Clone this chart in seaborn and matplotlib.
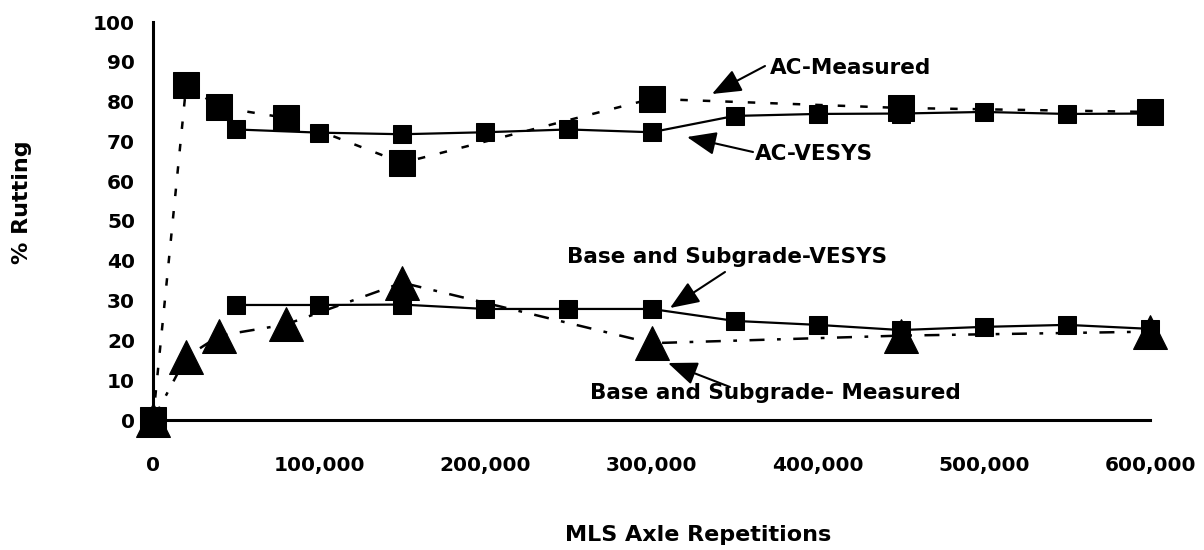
import matplotlib
matplotlib.use("Agg")
import matplotlib.pyplot as plt
import seaborn as sns
import pandas as pd
from matplotlib.ticker import FuncFormatter

sns.set_theme(style="white")
plt.rcParams['font.family'] = ['DejaVu Sans']
plt.rcParams['text.color'] = 'black'

# Data
ac_meas_x = [0, 20000, 40000, 80000, 150000, 300000, 450000, 600000]
ac_meas_y = [0, 84.2, 78.6, 75.9, 64.6, 80.7, 78.4, 77.4]

ac_vesys_x = [50000, 100000, 150000, 200000, 250000, 300000, 350000, 400000, 450000, 500000, 550000, 600000]
ac_vesys_y = [73.0, 72.2, 71.8, 72.3, 73.0, 72.3, 76.4, 76.9, 77.0, 77.4, 76.9, 77.0]

base_vesys_x = [50000, 100000, 150000, 200000, 250000, 300000, 350000, 400000, 450000, 500000, 550000, 600000]
base_vesys_y = [28.9, 28.9, 29.0, 27.9, 27.9, 27.9, 24.9, 23.9, 22.6, 23.4, 23.9, 22.9]

base_meas_x = [0, 20000, 40000, 80000, 150000, 300000, 450000, 600000]
base_meas_y = [0, 15.8, 21.2, 24.0, 34.5, 19.3, 21.2, 22.2]

x_ticks = [0, 100000, 200000, 300000, 400000, 500000, 600000]
y_ticks = [0, 10, 20, 30, 40, 50, 60, 70, 80, 90, 100]

labels = ["AC-Measured", "AC-VESYS", "Base and Subgrade-VESYS", "Base and Subgrade- Measured"]

fig = plt.figure(figsize=(12.04, 5.5), dpi=100)
ax = fig.add_axes([153/1204, 1-420/550, (1150-153)/1204, (420-22)/550])

df_am = pd.DataFrame({"x": ac_meas_x, "y": ac_meas_y})
df_av = pd.DataFrame({"x": ac_vesys_x, "y": ac_vesys_y})
df_bv = pd.DataFrame({"x": base_vesys_x, "y": base_vesys_y})
df_bm = pd.DataFrame({"x": base_meas_x, "y": base_meas_y})

sns.lineplot(data=df_av, x="x", y="y", ax=ax, color="black", lw=1.6,
             marker="s", markersize=13.5, markeredgecolor="black", clip_on=False, zorder=3)
sns.lineplot(data=df_bv, x="x", y="y", ax=ax, color="black", lw=1.6,
             marker="s", markersize=13.5, markeredgecolor="black", clip_on=False, zorder=3)
sns.lineplot(data=df_am, x="x", y="y", ax=ax, color="black", lw=1.8,
             linestyle=(0, (3, 6)), marker="s", markersize=19,
             markeredgecolor="black", clip_on=False, zorder=4)
sns.lineplot(data=df_bm, x="x", y="y", ax=ax, color="black", lw=1.8,
             linestyle=(0, (6, 5, 1.5, 5)), marker="^", markersize=25,
             markeredgecolor="black", clip_on=False, zorder=4)

ax.set_xlim(0, 600000)
ax.set_ylim(0, 100)
ax.set_xticks(x_ticks)
ax.set_yticks(y_ticks)
ax.xaxis.set_major_formatter(FuncFormatter(lambda v, p: f"{int(v):,}"))

for s in ["top", "right"]:
    ax.spines[s].set_visible(False)
for s in ["left", "bottom"]:
    ax.spines[s].set_color("black")
    ax.spines[s].set_linewidth(2.2)

ax.tick_params(axis="both", direction="in", length=7, width=2, colors="black",
               labelsize=14.5)
ax.tick_params(axis="y", pad=13)
ax.tick_params(axis="x", pad=26)
for lab in ax.get_xticklabels() + ax.get_yticklabels():
    lab.set_fontweight("bold")

ax.set_xlabel("")
ax.set_ylabel("")
fig.text(698/1204, 1-535/550, "MLS Axle Repetitions", ha="center", va="center",
         fontsize=16, fontweight="bold", color="black")
fig.text(22/1204, 1-202/550, "% Rutting", ha="center", va="center",
         rotation=90, fontsize=16, fontweight="bold", color="black")

def px2d(px, py):
    return ((px - 153) / 997 * 600000, (420 - py) / 3.98)

ann = [
    (labels[0], (770, 68), (712, 94), (765, 66)),
    (labels[1], (755, 154), (687, 137), (753, 152)),
    (labels[2], (567, 257), (670, 308), (725, 272)),
    (labels[3], (590, 393), (668, 363), (730, 387)),
]
for txt, tpos, tip, tail in ann:
    tx, ty = px2d(*tpos)
    ax.text(tx, ty, txt, ha="left", va="center", fontsize=15.5,
            fontweight="bold", color="black", zorder=6, clip_on=False)
    ax.annotate("", xy=px2d(*tip), xytext=px2d(*tail),
                arrowprops=dict(arrowstyle="-|>,head_length=1.5,head_width=0.6",
                                color="black", lw=1.5, mutation_scale=12,
                                shrinkA=0, shrinkB=0),
                zorder=6, annotation_clip=False)

fig.savefig("out.png", dpi=100, facecolor="white")
